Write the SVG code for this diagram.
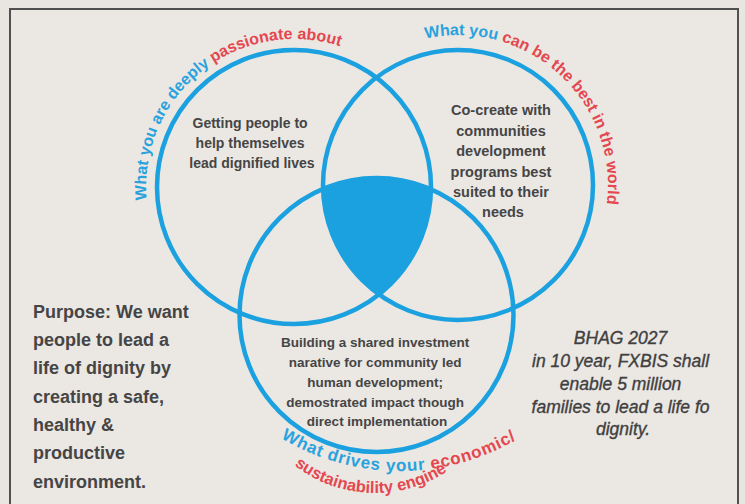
<svg xmlns="http://www.w3.org/2000/svg" width="745" height="504" viewBox="0 0 745 504">
  <style>
    .ring { fill: none; stroke: #1ba1df; stroke-width: 4.5; }
    .arc { font-family: "Liberation Sans", Arial, sans-serif; font-weight: bold; }
    .blue { fill: #2aa2dd; }
    .red { fill: #e4474f; }
    .node { font-family: "Liberation Sans", Arial, sans-serif; font-weight: bold; fill: #454545; text-anchor: middle; }
    .side { font-family: "Liberation Sans", Arial, sans-serif; font-weight: bold; fill: #454545; }
    .bhag { font-family: "Liberation Sans", Arial, sans-serif; font-style: italic; fill: #3f3f3f; stroke: #3f3f3f; stroke-width: 0.35; text-anchor: middle; }
  </style>
  <defs>
    <clipPath id="clipL"><circle cx="294" cy="187" r="137"/></clipPath>
    <clipPath id="clipR"><circle cx="458" cy="185" r="135"/></clipPath>
    <path id="pL" d="M146.6,199.9 A148,148 0 0,1 368,58.8" fill="none"/>
    <path id="pR" d="M425.5,38.6 A150,150 0 0,1 587.9,260" fill="none"/>
    <path id="pB1" d="M281,438 A231,231 0 0,0 577,388.5" fill="none"/>
    <path id="pB2" d="M294.3,465.2 A131,131 0 0,0 467.6,454.6" fill="none"/>
  </defs>

  <rect x="0" y="0" width="745" height="504" fill="#e9e5e1"/>
  <rect x="10" y="9" width="728" height="520" fill="#ebe7e3" stroke="#505050" stroke-width="2"/>

  <g id="core">
    <g clip-path="url(#clipL)">
      <g clip-path="url(#clipR)">
        <circle cx="376.5" cy="315" r="137" fill="#1ba1df"/>
      </g>
    </g>
  </g>

  <g id="circle-passion">
    <circle class="ring" cx="294" cy="187" r="137"/>
    <text class="arc" font-size="16"><textPath href="#pL"><tspan class="blue">What you are deeply </tspan><tspan class="red">passionate about</tspan></textPath></text>
    <text class="node" font-size="14">
      <tspan x="252" y="128">Getting people to</tspan>
      <tspan x="252" y="148">help themselves</tspan>
      <tspan x="252" y="168">lead dignified lives</tspan>
    </text>
  </g>

  <g id="circle-best">
    <circle class="ring" cx="458" cy="185" r="135"/>
    <text class="arc" font-size="16"><textPath href="#pR"><tspan class="blue">What you </tspan><tspan class="red">can be the best in the world</tspan></textPath></text>
    <text class="node" font-size="14.5">
      <tspan x="503" y="115">Co-create with</tspan>
      <tspan x="503" y="136">communities</tspan>
      <tspan x="503" y="156">development</tspan>
      <tspan x="503" y="177">programs best</tspan>
      <tspan x="503" y="197">suited to their</tspan>
      <tspan x="503" y="217">needs</tspan>
    </text>
  </g>

  <g id="circle-engine">
    <circle class="ring" cx="376.5" cy="315" r="137"/>
    <text class="arc" font-size="17" letter-spacing="0.8"><textPath href="#pB1"><tspan class="blue">What drives your </tspan><tspan class="red">economic/</tspan></textPath></text>
    <text class="arc red" font-size="16.5"><textPath href="#pB2">sustainability engine</textPath></text>
    <text class="node" font-size="13.5">
      <tspan x="377" y="347">Building a shared investment</tspan>
      <tspan x="377" y="367">narative for community led</tspan>
      <tspan x="377" y="387">human development;</tspan>
      <tspan x="377" y="407">demostrated impact though</tspan>
      <tspan x="377" y="426">direct implementation</tspan>
    </text>
  </g>

  <g id="purpose">
    <text class="side" font-size="18">
      <tspan x="33" y="318">Purpose: We want</tspan>
      <tspan x="33" y="346">people to lead a</tspan>
      <tspan x="33" y="374">life of dignity by</tspan>
      <tspan x="33" y="403">creating a safe,</tspan>
      <tspan x="33" y="431">healthy &amp;</tspan>
      <tspan x="33" y="459">productive</tspan>
      <tspan x="33" y="488">environment.</tspan>
    </text>
  </g>

  <g id="bhag">
    <text class="bhag" font-size="17.5">
      <tspan x="623" y="344">BHAG 2027</tspan>
      <tspan x="623" y="367">in 10 year, FXBIS shall</tspan>
      <tspan x="623" y="390">enable 5 million</tspan>
      <tspan x="623" y="413">families to lead a life fo</tspan>
      <tspan x="623" y="435">dignity.</tspan>
    </text>
  </g>
</svg>
